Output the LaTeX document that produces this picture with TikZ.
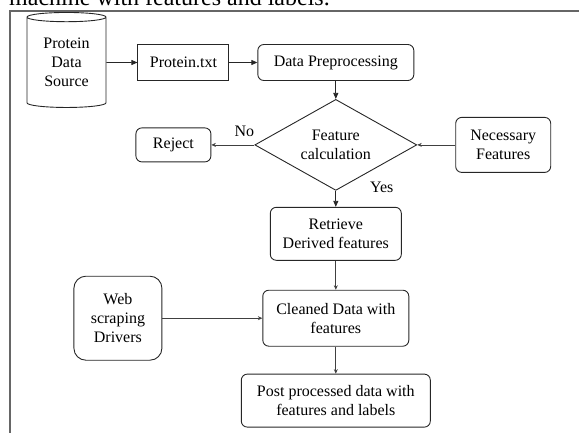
\documentclass[tikz,border=0pt]{standalone}
\usepackage{fontspec}
\setmainfont{Liberation Serif}
\usetikzlibrary{positioning, arrows.meta, shapes.geometric}

\begin{document}
\begin{tikzpicture}[
  x=1pt, y=1pt,
  font=\fontsize{16}{19}\selectfont,
  >={Triangle[length=6pt, width=5pt]},
  proc/.style={draw=black!85, line width=0.9pt, rounded corners=6pt, align=center,
               inner sep=0pt},
  plain/.style={draw=black!85, line width=0.9pt, align=center, inner sep=0pt},
  store/.style={draw=black!85, line width=0.9pt, cylinder, shape border rotate=90,
                aspect=0.2, align=center, inner sep=0pt,
                minimum width=79pt, minimum height=95pt},
  decide/.style={draw=black!85, line width=0.9pt, diamond, aspect=1.8, align=center,
                 inner sep=0pt, minimum width=162pt, minimum height=91pt},
  arr/.style={->, line width=0.8pt, draw=black!85},
  arrs/.style={-{Stealth[length=4.5pt, width=4pt]}, line width=0.7pt, draw=black!75},
  lbl/.style={inner sep=0pt},
]
\useasboundingbox (0,0) rectangle (579,-432);
% ---- frame and cut caption ----
\draw[black!60, line width=1.3pt] (10,-440) |- (590,-11);
\node[lbl, anchor=base west, font=\fontsize{24}{28}\selectfont] (caption) at (9,-5)
  {machine with features and labels.};
% ---- top row ----
\node[store] (src) at (66.5,-62.5) {Protein\\Data\\Source};
\node[plain, right=31pt of src, minimum width=91pt, minimum height=36pt] (txt) {Protein.txt};
\node[proc, right=28pt of txt, minimum width=156pt, minimum height=36pt] (prep) {Data Preprocessing};
% ---- decision ----
\node[decide, below=18pt of prep] (calc) {Feature\\calculation};
\node[proc, left=43pt of calc, minimum width=75pt, minimum height=34pt] (reject) {Reject};
\node[proc, right=38pt of calc, minimum width=95pt, minimum height=55pt] (need) {Necessary\\Features};
\node[lbl] (no) at ([shift={(-10pt,14pt)}]calc.west) {No};
\node[lbl] (yes) at ([shift={(46pt,4pt)}]calc.south) {Yes};
% ---- lower chain ----
\node[proc, below=16pt of calc, minimum width=131pt, minimum height=53pt] (derived) {Retrieve\\Derived features};
\node[proc, below=29pt of derived, minimum width=146pt, minimum height=56pt] (clean) {Cleaned Data with\\features};
\node[proc, rounded corners=12pt, left=100pt of clean, minimum width=88pt, minimum height=84pt] (web) {Web\\scraping\\Drivers};
\node[proc, below=27pt of clean, minimum width=189pt, minimum height=53pt] (post) {Post processed data with\\features and labels};
% ---- arrows ----
\draw[arr] (src) -- (txt);
\draw[arr] (txt) -- (prep);
\draw[arr] (prep) -- (calc);
\draw[arrs] (calc.west) -- (reject);
\draw[arrs] (need) -- (calc.east);
\draw[arr] (calc.south) -- (derived);
\draw[arrs] (derived) -- (clean);
\draw[arrs] (web) -- (clean);
\draw[arrs] (clean) -- (post);
\end{tikzpicture}
\end{document}
